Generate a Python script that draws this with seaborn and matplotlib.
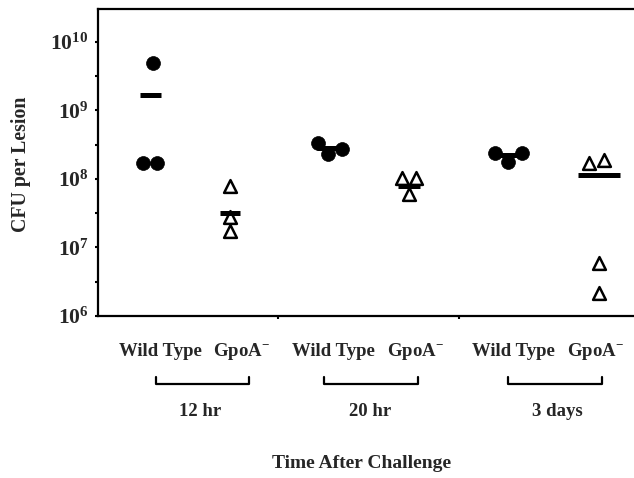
import numpy as np
import pandas as pd
import matplotlib
matplotlib.use("Agg")
import matplotlib.pyplot as plt
import matplotlib.transforms as mtransforms
from matplotlib.ticker import FixedLocator, NullFormatter
import seaborn as sns

# ---------------- data ----------------
groups = ["12 hr", "20 hr", "3 days"]
strains = ["Wild Type", "GpoA-"]
wt_12hr = [4.9e9, 1.7e8, 1.7e8]
gpo_12hr = [7.8e7, 2.75e7, 1.75e7]
wt_20hr = [3.3e8, 2.3e8, 2.75e8]
gpo_20hr = [1.02e8, 1.02e8, 6.0e7]
wt_3day = [2.35e8, 1.75e8, 2.35e8]
gpo_3day = [1.7e8, 1.88e8, 5.9e6, 2.15e6]
mean_values = [1.67e9, 3.2e7, 2.8e8, 7.8e7, 2.2e8, 1.14e8]
y_ticks = [1e6, 1e7, 1e8, 1e9, 1e10]
y_tick_labels = [r"$10^{6}$", r"$10^{7}$", r"$10^{8}$", r"$10^{9}$", r"$10^{10}$"]
x_title = "Time After Challenge"
y_title = "CFU per Lesion"

# ---------------- layout (positions only) ----------------
cat_pos = [0.29, 0.733, 1.287, 1.725, 2.273, 2.777]
jitter = [[0.017, -0.039, 0.039], [0.0, 0.0, 0.0],
          [-0.066, -0.011, 0.066], [-0.039, 0.039, 0.0],
          [-0.072, 0.0, 0.078], [-0.055, 0.028, 0.0, 0.0]]
bar_half = [0.058, 0.058, 0.07, 0.062, 0.062, 0.114]
series = [wt_12hr, gpo_12hr, wt_20hr, gpo_20hr, wt_3day, gpo_3day]

rows = []
for i, vals in enumerate(series):
    g = groups[i // 2]
    s = strains[i % 2]
    for j, v in enumerate(vals):
        rows.append({"group": g, "strain": s, "cfu": v, "x": cat_pos[i] + jitter[i][j]})
df = pd.DataFrame(rows)

sns.set_style("white")
plt.rcParams["font.family"] = ["Liberation Serif", "DejaVu Serif"]
plt.rcParams["font.weight"] = "bold"
plt.rcParams["mathtext.fontset"] = "custom"
plt.rcParams["mathtext.rm"] = "Liberation Serif:bold"
plt.rcParams["mathtext.bf"] = "Liberation Serif:bold"
plt.rcParams["mathtext.it"] = "Liberation Serif:bold"

W, H = 634, 478
fig = plt.figure(figsize=(W / 100, H / 100), dpi=100)
ax = fig.add_axes([97.7 / W, 1 - 316 / H, (639.2 - 97.7) / W, (316 - 9) / H])

ax.set_yscale("log")
wt = df[df.strain == "Wild Type"]
gp = df[df.strain == "GpoA-"]
sns.scatterplot(data=wt, x="x", y="cfu", ax=ax, marker="o", s=100,
                facecolor="black", edgecolor="black", linewidth=0.5, zorder=3, legend=False)
sns.scatterplot(data=gp, x="x", y="cfu", ax=ax, marker="^", s=85,
                facecolor="white", edgecolor="black", linewidth=1.8, zorder=3, legend=False)
for i, m in enumerate(mean_values):
    ax.hlines(m, cat_pos[i] - bar_half[i], cat_pos[i] + bar_half[i],
              color="black", linewidth=3.6, zorder=4)

ax.set_xlim(0, 3)
ax.set_ylim(1e6, 10 ** 10.477)
ax.yaxis.set_major_locator(FixedLocator(y_ticks))
ax.set_yticklabels(y_tick_labels, fontsize=15.5)
ax.yaxis.set_minor_locator(FixedLocator([10 ** (k + 0.5) for k in range(6, 10)]))
ax.yaxis.set_minor_formatter(NullFormatter())
ax.xaxis.set_major_locator(FixedLocator([1, 2]))
ax.set_xticklabels([])
ax.tick_params(axis="both", which="both", direction="out", length=2.5, width=1.5,
               color="black", left=True, bottom=True, pad=4)
ax.set_xlabel("")
ax.set_ylabel("")
for side in ["left", "bottom", "top"]:
    ax.spines[side].set_linewidth(1.6)
    ax.spines[side].set_color("black")
ax.spines["right"].set_visible(False)

# ---------------- bottom annotations ----------------
def fy(py):
    return 1 - py / H

trans = mtransforms.blended_transform_factory(ax.transData, fig.transFigure)
def dx(px):
    return (px - 97.7) / 180.5

cat_label_px = [160, 241, 333, 415, 513, 595]
cat_labels = ["Wild Type", r"GpoA$^{-}$"] * 3
for lbl, px in zip(cat_labels, cat_label_px):
    ax.text(dx(px), fy(352), lbl, transform=trans, ha="center", va="center",
            fontsize=13.5, fontweight="bold")

brackets_px = [(156, 249), (324, 418), (508, 602)]
group_label_px = [200, 370, 557]
for (a, b), gx, g in zip(brackets_px, group_label_px, groups):
    xs = [dx(a), dx(a), dx(b), dx(b)]
    ys = [fy(377), fy(384), fy(384), fy(377)]
    ax.plot(xs, ys, transform=trans, color="black", linewidth=1.6, clip_on=False)
    ax.text(dx(gx), fy(411), g, transform=trans, ha="center", va="center",
            fontsize=13.5, fontweight="bold")

fig.text(362 / W, fy(464), x_title, ha="center", va="center", fontsize=14, fontweight="bold")
fig.text(21 / W, fy(164.5), y_title, ha="center", va="center", rotation=90,
         fontsize=14.3, fontweight="bold")

fig.savefig("out.png", dpi=100)
